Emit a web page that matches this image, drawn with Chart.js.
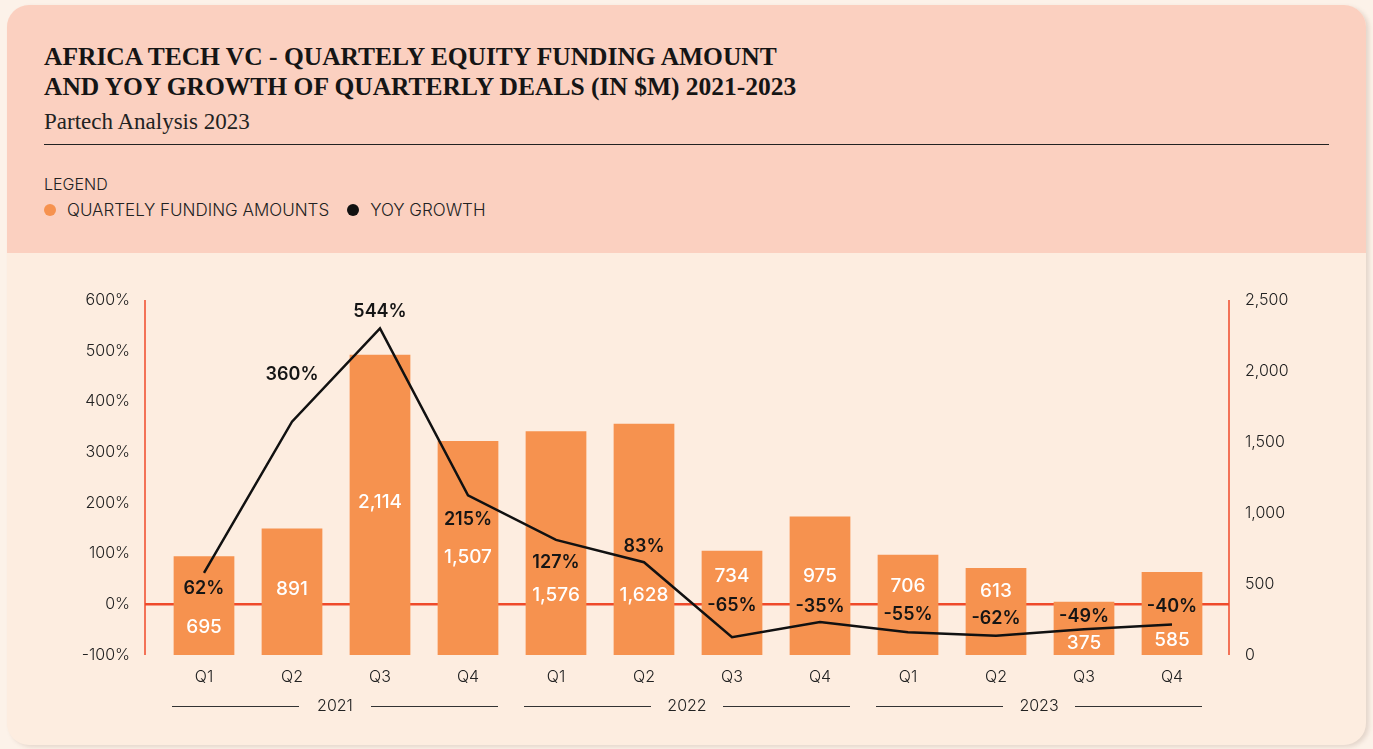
<!DOCTYPE html>
<html>
<head>
<meta charset="utf-8">
<script src="https://cdn.jsdelivr.net/npm/chart.js@4.4.1/dist/chart.umd.min.js"></script>
<style>
  html, body { margin: 0; padding: 0; }
  body { width: 1373px; height: 749px; background: #fcf2e9; position: relative; overflow: hidden; font-family: 'Inter', sans-serif; }
  .card { position: absolute; left: 7px; top: 5px; width: 1359px; height: 740px; border-radius: 22px; overflow: hidden; background: #fdede0; box-shadow: 3px 2px 4px rgba(120, 90, 70, 0.18); }
  .head { position: absolute; left: 0; top: 0; width: 100%; height: 248px; background: #fbd0c0; }
  .title { position: absolute; left: 37px; top: 37px; margin: 0; font-family: 'Liberation Serif', serif; font-weight: bold; font-size: 25.5px; line-height: 30px; color: #151515; }
  .sub { position: absolute; left: 37px; top: 104px; font-family: 'Liberation Serif', serif; font-size: 23px; color: #222; }
  .rule { position: absolute; left: 37px; top: 139px; width: 1285px; height: 1px; background: #222; }
  .legtitle { position: absolute; left: 37px; top: 169px; font-size: 16px; font-weight: 300; color: #222; }
  .legend { position: absolute; left: 37px; top: 195px; font-size: 17px; font-weight: 300; color: #222; display: flex; align-items: center; }
  .legend span.dot { display: inline-block; width: 12px; height: 12px; border-radius: 50%; margin-right: 11px; }
  .legend span.item { margin-right: 18px; display: flex; align-items: center; }
  #wrap { position: absolute; left: 0; top: 248px; width: 1359px; height: 492px; }
</style>
</head>
<body>
<div class="card">
  <div class="head">
    <h1 class="title">AFRICA TECH VC - QUARTELY EQUITY FUNDING AMOUNT<br>AND YOY GROWTH OF QUARTERLY DEALS (IN $M) 2021-2023</h1>
    <div class="sub">Partech Analysis 2023</div>
    <div class="rule"></div>
    <div class="legtitle">LEGEND</div>
    <div class="legend" id="legend"></div>
  </div>
  <div id="wrap"><canvas id="chart" width="1359" height="492"></canvas></div>
</div>
<script>
const quarters = ['Q1', 'Q2', 'Q3', 'Q4', 'Q1', 'Q2', 'Q3', 'Q4', 'Q1', 'Q2', 'Q3', 'Q4'];
const years = ['2021', '2022', '2023'];
const funding = [695, 891, 2114, 1507, 1576, 1628, 734, 975, 706, 613, 375, 585];
const yoyGrowth = [62, 360, 544, 215, 127, 83, -65, -35, -55, -62, -49, -40];

const barColor = '#f6924f';
const lineColor = '#111111';
const axisRed = '#ef4a2a';

// label nudges (px), hand placed like the original
const barLabelDy = [71, 61, 147, 116, 164, 171, 26, 60, 32, 23, 42, 68];
const lineLabelDy = [16, -47, -17, 24, 23, -16, -32, -15, -18, -17, -13, -18];

const sans = "'Inter', sans-serif";

// legend in the header
const legendEl = document.getElementById('legend');
[['QUARTELY FUNDING AMOUNTS', barColor], ['YOY GROWTH', lineColor]].forEach(([txt, col]) => {
    const item = document.createElement('span');
    item.className = 'item';
    item.innerHTML = '<span class="dot" style="background:' + col + '"></span>' + txt;
    legendEl.appendChild(item);
});

const axisLines = {
    id: 'axisLines',
    beforeDatasetsDraw(chart) {
        const { ctx, chartArea } = chart;
        const yL = chart.scales.yPct;
        const left = chartArea.left - 15;
        const right = chartArea.right + 13;
        ctx.save();
        ctx.strokeStyle = axisRed;
        ctx.lineWidth = 1.5;
        ctx.beginPath();
        ctx.moveTo(left, chartArea.top);
        ctx.lineTo(left, chartArea.bottom);
        ctx.moveTo(right, chartArea.top);
        ctx.lineTo(right, chartArea.bottom);
        ctx.stroke();
        ctx.lineWidth = 2.5;
        const y0 = yL.getPixelForValue(0);
        ctx.beginPath();
        ctx.moveTo(left, y0);
        ctx.lineTo(right, y0);
        ctx.stroke();
        ctx.restore();
    }
};

const valueLabels = {
    id: 'valueLabels',
    afterDatasetsDraw(chart) {
        const { ctx } = chart;
        const bars = chart.getDatasetMeta(1).data;
        const pts = chart.getDatasetMeta(0).data;
        ctx.save();
        ctx.textAlign = 'center';
        ctx.textBaseline = 'middle';
        ctx.font = '500 19px ' + sans;
        ctx.fillStyle = '#ffffff';
        bars.forEach((b, i) => {
            ctx.fillText(funding[i].toLocaleString('en-US'), b.x, b.y + barLabelDy[i]);
        });
        ctx.font = '600 18px ' + sans;
        ctx.fillStyle = '#151515';
        pts.forEach((p, i) => {
            ctx.fillText(yoyGrowth[i] + '%', p.x, p.y + lineLabelDy[i]);
        });
        ctx.restore();
    }
};

const yearAxis = {
    id: 'yearAxis',
    afterDraw(chart) {
        const { ctx } = chart;
        const x = chart.scales.x;
        const half = (x.getPixelForValue(1) - x.getPixelForValue(0)) / 2;
        const y = chart.chartArea.bottom + 51;
        ctx.save();
        ctx.font = '300 16px ' + sans;
        ctx.fillStyle = '#222';
        ctx.strokeStyle = '#333';
        ctx.lineWidth = 1;
        ctx.textAlign = 'center';
        ctx.textBaseline = 'middle';
        years.forEach((yr, k) => {
            const a = x.getPixelForValue(k * 4) - half + 12;
            const b = x.getPixelForValue(k * 4 + 3) + half - 14;
            const c = (a + b) / 2;
            ctx.fillText(yr, c, y);
            ctx.beginPath();
            ctx.moveTo(a, y + 0.5);
            ctx.lineTo(c - 36, y + 0.5);
            ctx.moveTo(c + 36, y + 0.5);
            ctx.lineTo(b, y + 0.5);
            ctx.stroke();
        });
        ctx.restore();
    }
};

const tickFont = { family: sans, size: 16, weight: 300 };

new Chart(document.getElementById('chart'), {
    data: {
        labels: quarters,
        datasets: [
            {
                type: 'line',
                label: 'YOY GROWTH',
                data: yoyGrowth,
                yAxisID: 'yPct',
                borderColor: lineColor,
                borderWidth: 2.5,
                pointRadius: 0,
                tension: 0,
                order: 0
            },
            {
                type: 'bar',
                label: 'QUARTELY FUNDING AMOUNTS',
                data: funding,
                yAxisID: 'yAmt',
                backgroundColor: barColor,
                categoryPercentage: 1,
                barPercentage: 0.69,
                order: 1
            }
        ]
    },
    options: {
        responsive: false,
        animation: false,
        layout: { padding: { top: 47, left: 0, right: 0, bottom: 0 } },
        plugins: {
            legend: { display: false },
            tooltip: { enabled: false }
        },
        scales: {
            x: {
                grid: { display: false, drawTicks: false },
                border: { display: false },
                ticks: { color: '#222', font: tickFont, padding: 13 },
                afterFit(s) { s.height = 90; }
            },
            yPct: {
                position: 'left',
                min: -100,
                max: 600,
                grid: { display: false },
                border: { display: false },
                ticks: { stepSize: 100, color: '#222', font: tickFont, padding: 22, callback: v => v + '%' },
                afterFit(s) { s.width = 153; }
            },
            yAmt: {
                position: 'right',
                min: 0,
                max: 2500,
                grid: { display: false },
                border: { display: false },
                ticks: { stepSize: 500, color: '#222', font: tickFont, padding: 21, callback: v => v.toLocaleString('en-US') },
                afterFit(s) { s.width = 150; }
            }
        }
    },
    plugins: [axisLines, valueLabels, yearAxis]
});
</script>
</body>
</html>
